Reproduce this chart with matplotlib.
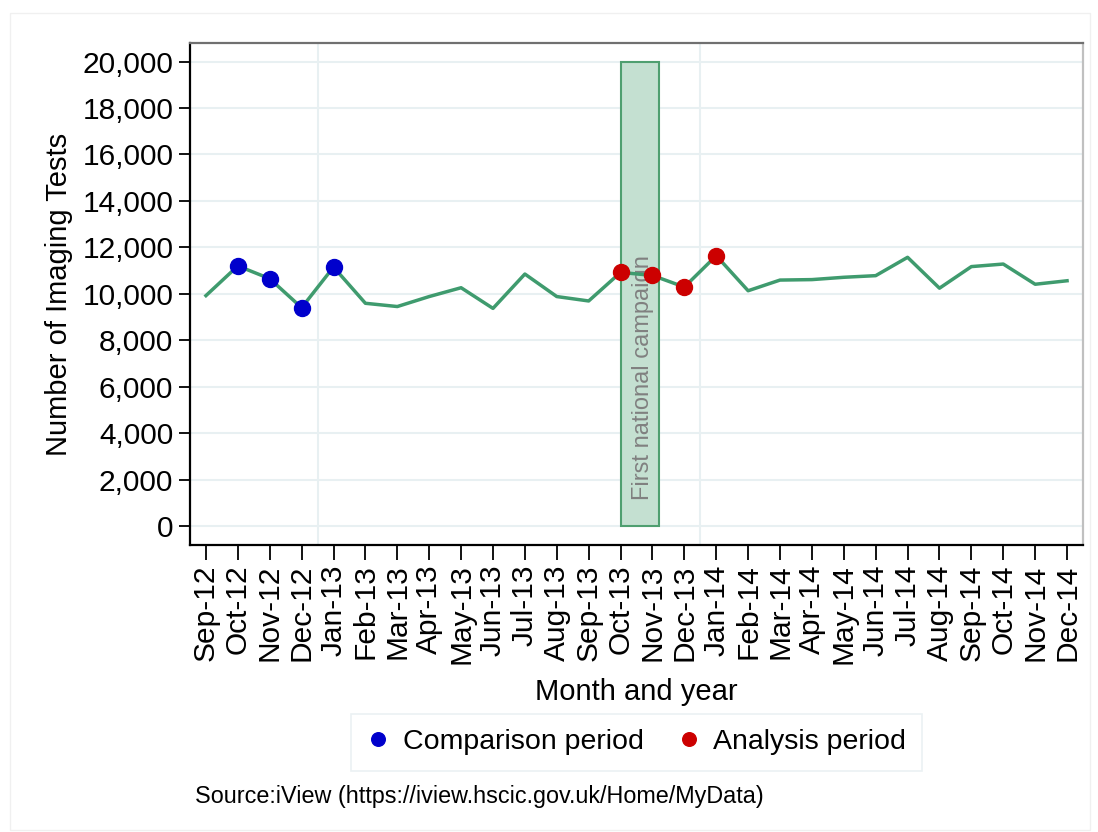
import matplotlib.pyplot as plt
from matplotlib.patches import Rectangle
from matplotlib.ticker import FuncFormatter

plt.rcParams['font.family'] = ['Liberation Sans', 'DejaVu Sans']

# data
months = ['Sep-12', 'Oct-12', 'Nov-12', 'Dec-12',
          'Jan-13', 'Feb-13', 'Mar-13', 'Apr-13', 'May-13', 'Jun-13',
          'Jul-13', 'Aug-13', 'Sep-13', 'Oct-13', 'Nov-13', 'Dec-13',
          'Jan-14', 'Feb-14', 'Mar-14', 'Apr-14', 'May-14', 'Jun-14',
          'Jul-14', 'Aug-14', 'Sep-14', 'Oct-14', 'Nov-14', 'Dec-14']
tests = [9920, 11200, 10650, 9400,
         11150, 9590, 9450, 9880, 10260, 9370,
         10850, 9880, 9690, 10920, 10790, 10290,
         11640, 10130, 10590, 10610, 10710, 10780,
         11570, 10240, 11170, 11280, 10410, 10560]
comparison = ['Oct-12', 'Nov-12', 'Dec-12', 'Jan-13']
analysis = ['Oct-13', 'Nov-13', 'Dec-13', 'Jan-14']
campaign_start, campaign_end = 13.0, 14.2
campaign_height = 20000

green = '#3f9b6e'

fig = plt.figure(figsize=(10.98, 8.32), dpi=100)
fig.patches.append(Rectangle((10 / 1098, 1 - 830 / 832), 1080 / 1098, 817 / 832,
                             transform=fig.transFigure, fill=False,
                             edgecolor='#f0f0f0', lw=1))
ax = fig.add_axes([190 / 1098, 1 - 545 / 832, 893 / 1098, 502 / 832])

x = list(range(len(months)))

# grid
for v in range(0, 20001, 2000):
    ax.axhline(v, color='#e8f0f2', lw=1.5, zorder=0)
for v in [3.5, 15.5]:
    ax.axvline(v, color='#e8f0f2', lw=1.5, zorder=0)

# campaign band
ax.bar((campaign_start + campaign_end) / 2, campaign_height,
       width=campaign_end - campaign_start, color='#c4e0d1',
       edgecolor='#4f9f70', lw=1.5, zorder=1)
ax.text(13.7, 1100, 'First national campaign', rotation=90, color='#808080',
        fontsize=17, ha='center', va='bottom', zorder=2)

ax.plot(x, tests, color=green, lw=2.5, zorder=3)

ci = [months.index(m) for m in comparison]
ai = [months.index(m) for m in analysis]
ax.plot(ci, [tests[i] for i in ci], 'o', color='#0000cc', ms=11.5,
        zorder=4, label='Comparison period')
ax.plot(ai, [tests[i] for i in ai], 'o', color='#cc0000', ms=11.5,
        zorder=4, label='Analysis period')

ax.set_xlim(-0.5, 27.5)
ax.set_ylim(-820, 20800)
ax.set_xticks(x)
ax.set_xticklabels(months, rotation=90, fontsize=21.5)
ax.set_yticks(range(0, 20001, 2000))
ax.yaxis.set_major_formatter(FuncFormatter(lambda v, p: f'{int(v):,}'))
ax.tick_params(axis='y', labelsize=21.5, length=8, width=1.3, pad=4)
ax.tick_params(axis='x', length=11, width=1.3, pad=3)

ax.spines['left'].set_linewidth(1.6)
ax.spines['bottom'].set_linewidth(1.6)
ax.spines['top'].set_color('#707070')
ax.spines['top'].set_linewidth(1.6)
ax.spines['right'].set_color('#c0c0c0')
ax.spines['right'].set_linewidth(1.6)

ax.set_ylabel('Number of Imaging Tests', fontsize=21, labelpad=7)
ax.set_xlabel('Month and year', fontsize=21, labelpad=10)

leg = ax.legend(loc='upper center', bbox_to_anchor=(0.5, -0.336), ncol=2,
                fontsize=20.5, frameon=True, fancybox=False, handlelength=0.8,
                handletextpad=0.45, columnspacing=1.2, borderpad=0.55,
                borderaxespad=0, markerscale=0.85)
leg.get_frame().set_edgecolor('#e6eef0')
leg.get_frame().set_linewidth(1.2)

fig.text(195 / 1098, 1 - 796 / 832, 'Source:iView (https://iview.hscic.gov.uk/Home/MyData)',
         fontsize=16.8, va='center')

fig.savefig('out.png', dpi=100)
